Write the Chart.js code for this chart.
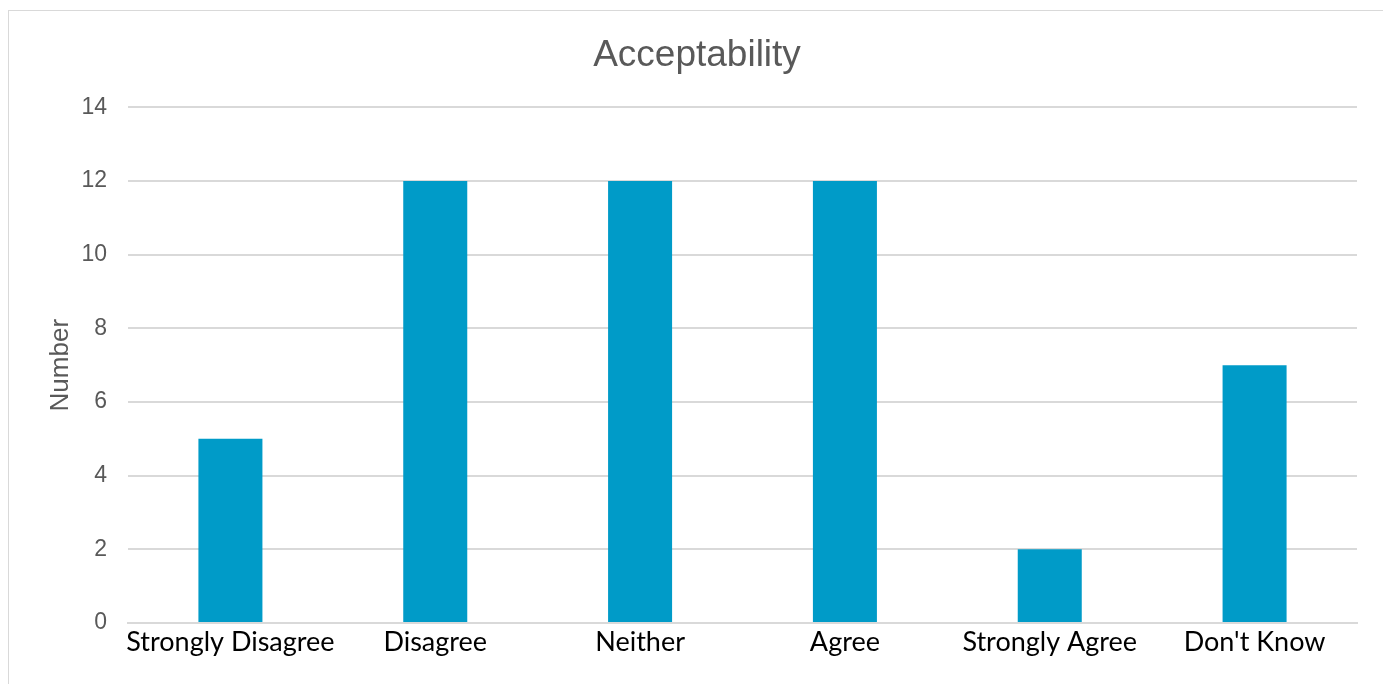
<!DOCTYPE html>
<html>
<head>
<meta charset="utf-8">
<script src="https://cdn.jsdelivr.net/npm/chart.js@4"></script>
<style>
  body { margin: 0; background: #fff; overflow: hidden; }
  #frame { position: absolute; left: 8px; top: 10px; width: 1390px; height: 690px; border: 1px solid #d9d9d9; }
  #wrap { position: absolute; left: 0; top: 0; width: 1376px; height: 673px; }
</style>
</head>
<body>
<div id="frame"><div id="wrap"><canvas id="lienzo"></canvas></div></div>
<script>
// data
const categories = ["Strongly Disagree", "Disagree", "Neither", "Agree", "Strongly Agree", "Don't Know"]
const counts = [5, 12, 12, 12, 2, 7]
const yTicks = [0, 2, 4, 6, 8, 10, 12, 14]

const ctx = document.getElementById("lienzo")
new Chart(ctx, {
    type: 'bar',
    data: {
        labels: categories,
        datasets: [{
            label: "Number",
            data: counts,
            backgroundColor: '#009bc8',
            categoryPercentage: 1,
            barPercentage: 0.3125
        }]
    },
    options: {
        responsive: true,
        maintainAspectRatio: false,
        animation: false,
        layout: { padding: 0 },
        plugins: {
            legend: { display: false },
            tooltip: { enabled: false },
            title: {
                display: true,
                text: "Acceptability",
                color: '#595959',
                font: { family: "'Liberation Sans', Arial, sans-serif", size: 37, weight: 'normal' },
                padding: { top: 23, bottom: 29 }
            }
        },
        scales: {
            x: {
                grid: { display: false, drawTicks: false },
                border: { display: true, color: '#d9d9d9', width: 2 },
                ticks: {
                    color: '#000',
                    font: { family: "Lato, 'Open Sans', sans-serif", size: 27 },
                    padding: 3,
                    maxRotation: 0,
                    autoSkip: false
                },
                afterFit: (scale) => { scale.height = 61 }
            },
            y: {
                min: 0,
                max: 14,
                afterBuildTicks: (scale) => { scale.ticks = yTicks.map(v => ({ value: v })) },
                grid: { color: '#d9d9d9', lineWidth: 2, drawTicks: false },
                border: { display: false },
                ticks: {
                    color: '#595959',
                    font: { family: "'Liberation Sans', Arial, sans-serif", size: 23 },
                    padding: 21
                },
                title: {
                    display: true,
                    text: "Number",
                    color: '#595959',
                    font: { family: "'Liberation Sans', Arial, sans-serif", size: 26 },
                    padding: { top: 36, bottom: 0 }
                },
                afterFit: (scale) => { scale.width = 119 }
            },
            // empty right margin so the title stays centred on the whole frame
            yr: {
                position: 'right',
                grid: { display: false, drawTicks: false },
                border: { display: false },
                ticks: { display: false },
                afterFit: (scale) => { scale.width = 28 }
            }
        }
    }
})
</script>
</body>
</html>
